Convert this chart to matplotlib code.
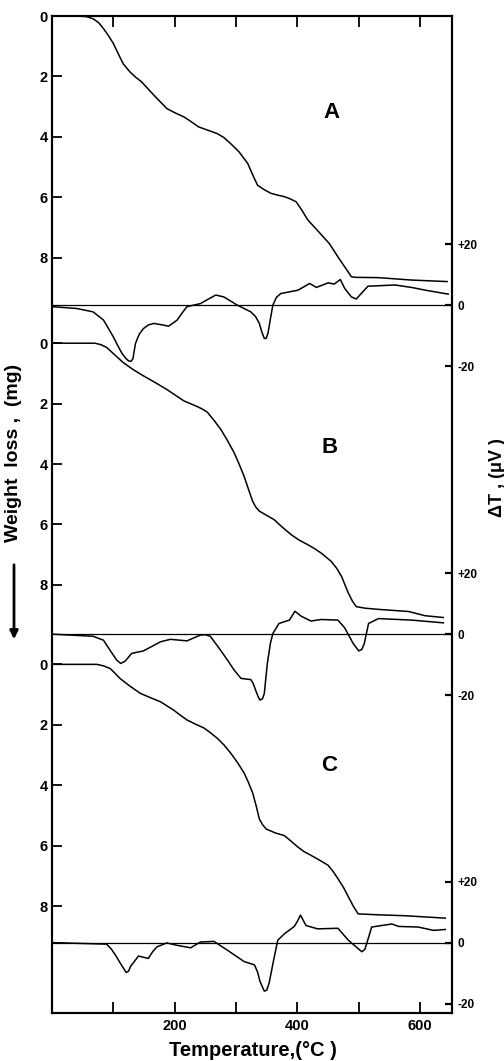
import numpy as np
import matplotlib
matplotlib.use("Agg")
import matplotlib.pyplot as plt

plt.rcParams['font.family'] = ['Liberation Sans', 'DejaVu Sans']

# --- data ---
# weight loss (mg) vs temperature (C)
tA = [0, 40, 56, 67, 76, 84, 92, 100, 108, 116, 127, 136, 146, 156, 166, 177, 187,
      200, 215, 227, 239, 254, 269, 280, 291, 305, 319, 327, 335, 346, 357, 368, 379,
      388, 398, 407, 417, 435, 452, 466, 477, 488, 494, 532, 586, 644]
wA = [0, 0, 0.02, 0.09, 0.22, 0.42, 0.65, 0.91, 1.25, 1.58, 1.85, 2.02, 2.18, 2.40,
      2.62, 2.85, 3.06, 3.2, 3.34, 3.5, 3.67, 3.78, 3.89, 4.02, 4.22, 4.5, 4.88, 5.25,
      5.6, 5.75, 5.87, 5.93, 5.98, 6.05, 6.15, 6.42, 6.75, 7.15, 7.53, 7.97, 8.3, 8.63,
      8.65, 8.66, 8.74, 8.79]

tB = [0, 70, 80, 89, 102, 116, 132, 149, 168, 187, 201, 215, 237, 245, 253, 264, 275,
      286, 297, 305, 313, 320, 327, 332, 338, 350, 362, 376, 390, 403, 417, 428, 439,
      455, 464, 472, 483, 490, 496, 510, 532, 581, 608, 638]
wB = [0, 0, 0.05, 0.14, 0.38, 0.64, 0.87, 1.08, 1.30, 1.53, 1.72, 1.91, 2.10, 2.18,
      2.28, 2.55, 2.85, 3.22, 3.63, 4.0, 4.40, 4.82, 5.23, 5.42, 5.56, 5.7, 5.84, 6.1,
      6.34, 6.52, 6.67, 6.8, 6.95, 7.22, 7.45, 7.72, 8.27, 8.55, 8.72, 8.77, 8.81,
      8.88, 9.02, 9.08]

tC = [0, 73, 84, 95, 103, 111, 127, 144, 160, 177, 187, 198, 209, 220, 234, 248, 258,
      269, 280, 291, 302, 313, 320, 327, 333, 338, 343, 349, 364, 379, 390, 401, 411,
      422, 436, 450, 458, 466, 475, 483, 491, 499, 532, 575, 641]
wC = [0, 0, 0.05, 0.14, 0.3, 0.47, 0.72, 0.96, 1.1, 1.24, 1.37, 1.51, 1.68, 1.84,
      1.98, 2.11, 2.26, 2.44, 2.66, 2.93, 3.24, 3.59, 3.9, 4.25, 4.7, 5.12, 5.3, 5.45,
      5.58, 5.67, 5.86, 6.05, 6.2, 6.32, 6.48, 6.65, 6.85, 7.09, 7.38, 7.69, 8.0, 8.26,
      8.29, 8.32, 8.40]

# DTA signal (uV) vs temperature (C)
dtA_t = [0, 40, 67, 84, 100, 107, 114, 120, 125, 129, 132, 136, 142, 149, 157, 166,
         178, 190, 204, 212, 220, 242, 255, 267, 280, 302, 324, 332, 338, 342, 346,
         349, 352, 356, 360, 366, 373, 401, 420, 431, 450, 460, 470, 477, 488, 496,
         504, 515, 559, 586, 614, 646]
dtA = [-0.5, -1.1, -2.2, -4.9, -10.4, -13.2, -15.8, -17.4, -18.3, -18.4, -17.5, -12.6,
       -9.6, -7.7, -6.5, -6.0, -6.4, -6.9, -4.9, -2.6, -0.5, 0.5, 2.0, 3.3, 2.7, 0,
       -2.2, -3.8, -6.0, -8.8, -10.9, -10.9, -9.3, -4.5, 0, 2.6, 3.8, 4.9, 7.1, 5.8,
       7.3, 6.9, 8.4, 5.5, 2.7, 2.0, 3.8, 6.2, 6.6, 5.8, 4.7, 3.6]

dtB_t = [0, 67, 84, 92, 100, 106, 112, 119, 130, 149, 177, 193, 220, 242, 250, 258,
         272, 286, 297, 308, 324, 328, 332, 336, 339, 343, 346, 351, 356, 360, 370,
         387, 396, 406, 422, 439, 466, 477, 491, 500, 505, 509, 516, 532, 586, 638]
dtB = [0, -0.7, -2.0, -4.5, -6.9, -8.6, -9.6, -8.9, -6.3, -5.5, -2.5, -1.7, -2.2,
       -0.3, -0.2, -0.7, -4.5, -8.5, -11.8, -14.5, -14.9, -16.2, -18.4, -20.5, -21.6,
       -21.2, -19.5, -9.6, -3.0, 0.2, 3.5, 4.6, 7.5, 5.9, 4.3, 4.8, 4.6, 2.1, -3.1,
       -5.5, -5.0, -3.1, 3.5, 5.1, 4.6, 3.7]

dtC_t = [0, 89, 97, 105, 113, 121, 125, 128, 141, 157, 164, 171, 187, 204, 226, 242,
         264, 286, 313, 330, 335, 339, 346, 350, 354, 362, 368, 379, 395, 400, 405,
         409, 414, 433, 466, 483, 505, 510, 513, 521, 554, 565, 597, 622, 641]
dtC = [0, -0.5, -2.2, -4.6, -7.3, -9.8, -9.3, -7.8, -4.4, -5.2, -3.0, -1.4, -0.1,
       -0.9, -1.7, 0.2, 0.4, -2.5, -6.2, -7.3, -9.6, -12.7, -15.9, -15.6, -13.2, -5.0,
       0.8, 2.9, 5.3, 7.0, 9.0, 7.5, 5.6, 4.5, 4.7, 0.8, -3.0, -2.2, -0.3, 5.1, 6.1,
       5.3, 5.1, 4.0, 4.3]

labels = ['A', 'B', 'C']
w_ticks = [0, 2, 4, 6, 8]
dt_ticks = [20, 0, -20]
dt_ticklabels = ['+20', '0', '-20']

# --- layout (vertical stacking in "mg" units from top of frame) ---
w_off = [0.0, 10.83, 21.46]     # where weight 0 sits for each trace
dt_base = [9.57, 20.46, 30.67]  # DTA zero line of each trace
uv = 0.101                      # mg-units per microvolt
ybottom = 33.0

fig = plt.figure(figsize=(5.04, 10.61), dpi=100)
ax = fig.add_axes([52 / 504, 1 - 1013 / 1061, 400 / 504, 997 / 1061])

lw = 1.1
for k, (t, w) in enumerate([(tA, wA), (tB, wB), (tC, wC)]):
    ax.plot(t, np.array(w) + w_off[k], color='black', lw=lw)
for k, (t, d) in enumerate([(dtA_t, dtA), (dtB_t, dtB), (dtC_t, dtC)]):
    ax.plot(t, dt_base[k] - uv * np.array(d), color='black', lw=lw)
    ax.axhline(dt_base[k], color='black', lw=0.9)

letter_pos = [(455, 3.2), (452, 14.27), (452, 24.8)]
for k, lab in enumerate(labels):
    x, y = letter_pos[k]
    ax.text(x, y, lab, fontsize=16, fontweight='bold', ha='center', va='center')

ax.set_xlim(0, 652)
ax.set_ylim(ybottom, 0)

ax.set_xticks([100, 200, 300, 400, 500, 600])
ax.set_xticklabels(['', '200', '', '400', '', '600'])
ax.set_yticks([o + v for o in w_off for v in w_ticks])
ax.set_yticklabels([str(v) for o in w_off for v in w_ticks])
ax.tick_params(axis='x', direction='in', length=8, width=1.3, top=True,
               labelsize=10.5, pad=4)
ax.tick_params(axis='y', direction='in', length=7, width=1.3, labelsize=10.5, pad=3)
for lbl in ax.get_xticklabels() + ax.get_yticklabels():
    lbl.set_fontweight('bold')

ax2 = ax.twinx()
ax2.set_ylim(ybottom, 0)
ax2.set_yticks([b - uv * v for b in dt_base for v in dt_ticks])
ax2.set_yticklabels(dt_ticklabels * 3)
ax2.tick_params(axis='y', direction='in', length=5, width=1.6, labelsize=8.5, pad=4)
for lbl in ax2.get_yticklabels():
    lbl.set_fontweight('bold')

for a in (ax, ax2):
    for s in a.spines.values():
        s.set_linewidth(1.5)

fig.text(253 / 504, 1 - 1050 / 1061, 'Temperature,(°C )', ha='center', va='center',
         fontsize=14.5, fontweight='bold')
fig.text(14 / 504, 1 - 453 / 1061, 'Weight  loss ,  (mg)', ha='center', va='center',
         rotation=90, fontsize=14, fontweight='bold')
fig.text(497 / 504, 1 - 478 / 1061, 'ΔT , (μV )', ha='center', va='center',
         rotation=90, fontsize=13, fontweight='bold')
ax.annotate('', xy=(14 / 504, 1 - 642 / 1061), xytext=(14 / 504, 1 - 562 / 1061),
            xycoords='figure fraction', textcoords='figure fraction',
            arrowprops=dict(arrowstyle='-|>', lw=2, color='black', mutation_scale=12))

fig.savefig('out.png', dpi=100)
